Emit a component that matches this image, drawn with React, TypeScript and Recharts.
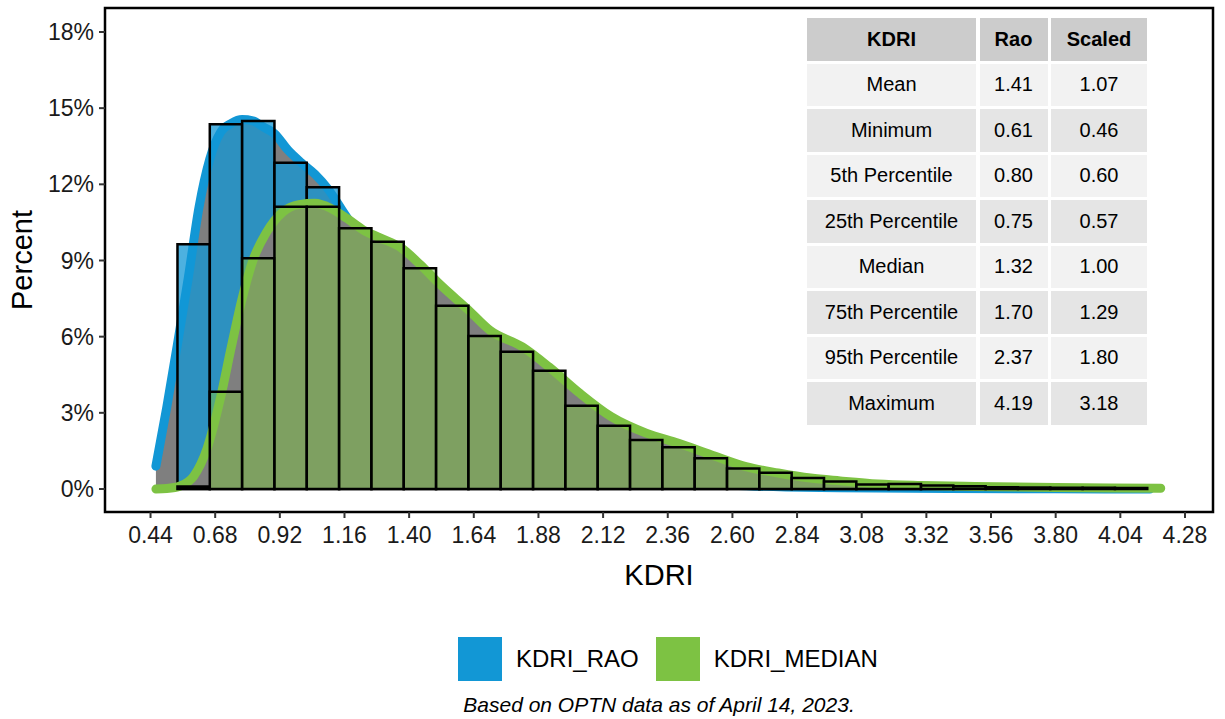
import React from 'react';
import { ComposedChart, Area, XAxis, YAxis, ReferenceArea, Legend } from 'recharts';

const RAO_COLOR = '#1297d5';
const MEDIAN_COLOR = '#7dc243';
const FONT = '"Liberation Sans", Arial, Helvetica, sans-serif';
const CAPTION = 'Based on OPTN data as of April 14, 2023.';
const SERIES_NAMES = ['KDRI_RAO', 'KDRI_MEDIAN'];

const X_DOMAIN: [number, number] = [0.271, 4.384];
const Y_DOMAIN: [number, number] = [-0.906, 18.945];
const X_TICKS = [0.44, 0.68, 0.92, 1.16, 1.4, 1.64, 1.88, 2.12, 2.36, 2.6, 2.84, 3.08, 3.32, 3.56, 3.8, 4.04, 4.28];
const Y_TICKS = [0, 3, 6, 9, 12, 15, 18];

// histogram bins (left edges + final right edge), percent of donors per bin
const BIN_EDGES = [
  0.54, 0.66, 0.78, 0.9, 1.02, 1.14, 1.26, 1.38, 1.5, 1.62, 1.74, 1.86, 1.98, 2.1, 2.22, 2.34,
  2.46, 2.58, 2.7, 2.82, 2.94, 3.06, 3.18, 3.3, 3.42, 3.54, 3.66, 3.78, 3.9, 4.02, 4.14,
];
const RAO_PCT = [
  9.64, 14.37, 14.49, 12.85, 11.88, 9.5, 7.9, 6.4, 4.6, 3.2, 2.4, 1.65, 1.0, 0.65, 0.45, 0.3,
  0.2, 0.12, 0.08, 0.05, 0.04, 0.03, 0.02, 0.01, 0.01, 0, 0, 0, 0, 0,
];
const MEDIAN_PCT = [
  0.1, 3.83, 9.09, 11.12, 11.12, 10.27, 9.74, 8.69, 7.22, 6.03, 5.41, 4.66, 3.28, 2.49, 1.93, 1.64,
  1.21, 0.81, 0.64, 0.43, 0.3, 0.18, 0.2, 0.14, 0.11, 0.07, 0.06, 0.05, 0.05, 0.04,
];

// density curves, scaled to percent per bin
const RAO_DENS_X = [
  0.46, 0.5, 0.54, 0.58, 0.62, 0.66, 0.7, 0.74, 0.78, 0.82, 0.86, 0.9, 0.95, 1.0, 1.05, 1.1, 1.15,
  1.2, 1.3, 1.4, 1.5, 1.6, 1.7, 1.8, 1.9, 2.0, 2.2, 2.4, 2.6, 2.8, 3.0, 3.4, 3.8, 4.15,
];
const RAO_DENS_Y = [
  0.9, 3.2, 5.7, 8.3, 11.1, 13.0, 14.05, 14.4, 14.55, 14.5, 14.25, 14.0, 13.35, 12.85, 12.4, 11.8, 11.0,
  10.2, 8.8, 7.3, 5.7, 4.4, 3.3, 2.4, 1.7, 1.2, 0.6, 0.3, 0.15, 0.08, 0.05, 0.02, 0.01, 0,
];
const MEDIAN_DENS_X = [
  0.46, 0.5, 0.55, 0.6, 0.65, 0.7, 0.74, 0.78, 0.82, 0.87, 0.93, 0.99, 1.05, 1.11, 1.17, 1.23, 1.29,
  1.37, 1.44, 1.51, 1.62, 1.7, 1.82, 1.92, 2.03, 2.15, 2.28, 2.4, 2.52, 2.65, 2.77, 2.89, 3.0, 3.14,
  3.3, 3.5, 3.8, 4.0, 4.19,
];
const MEDIAN_DENS_Y = [
  0.0, 0.02, 0.12, 0.5, 1.6, 3.6, 5.6, 7.5, 9.0, 10.1, 10.9, 11.2, 11.25, 11.05, 10.65, 10.2, 9.9,
  9.5, 8.85, 8.1, 7.05, 6.25, 5.6, 4.8, 3.8, 2.85, 2.2, 1.8, 1.35, 0.88, 0.63, 0.43, 0.32, 0.2,
  0.14, 0.1, 0.06, 0.04, 0.03,
];

// summary table
const TABLE_HEAD = ['KDRI', 'Rao', 'Scaled'];
const STAT_NAMES = ['Mean', 'Minimum', '5th Percentile', '25th Percentile', 'Median', '75th Percentile', '95th Percentile', 'Maximum'];
const STAT_RAO = ['1.41', '0.61', '0.80', '0.75', '1.32', '1.70', '2.37', '4.19'];
const STAT_SCALED = ['1.07', '0.46', '0.60', '0.57', '1.00', '1.29', '1.80', '3.18'];

const raoDensity = RAO_DENS_X.map((x, i) => ({ x, y: RAO_DENS_Y[i] }));
const medianDensity = MEDIAN_DENS_X.map((x, i) => ({ x, y: MEDIAN_DENS_Y[i] }));

const renderBins = (values: number[], color: string, opacity: number, z: number, key: string) =>
  values.map((v, i) =>
    v > 0 ? (
      <ReferenceArea
        key={`${key}-${i}`}
        x1={BIN_EDGES[i]}
        x2={BIN_EDGES[i + 1]}
        y1={0}
        y2={v}
        fill={color}
        fillOpacity={opacity}
        stroke="#000"
        strokeWidth={2.5}
        ifOverflow="visible"
        zIndex={z}
      />
    ) : null
  );

const LegendContent = (props: any) => {
  const payload = [...(props.payload ?? [])].sort(
    (a: any, b: any) => SERIES_NAMES.indexOf(a.value) - SERIES_NAMES.indexOf(b.value)
  );
  return (
    <div style={{ position: 'relative', width: 1225, height: 130, fontFamily: FONT }}>
      <div style={{ position: 'absolute', left: 458, top: 48, height: 44, display: 'flex', alignItems: 'center' }}>
        {payload.map((item: any) => (
          <div key={item.value} style={{ display: 'flex', alignItems: 'center', marginRight: 17 }}>
            <span style={{ display: 'inline-block', width: 44, height: 44, background: item.color }} />
            <span style={{ marginLeft: 14, fontSize: 24, lineHeight: '24px', color: '#000' }}>{item.value}</span>
          </div>
        ))}
      </div>
      <div
        style={{
          position: 'absolute',
          left: 105,
          width: 1108,
          top: 105,
          textAlign: 'center',
          fontStyle: 'italic',
          fontSize: 21,
          lineHeight: '21px',
          color: '#000',
        }}
      >
        {CAPTION}
      </div>
    </div>
  );
};

const cell = (bg: string, bold = false): React.CSSProperties => ({
  background: bg,
  display: 'flex',
  alignItems: 'center',
  justifyContent: 'center',
  fontWeight: bold ? 700 : 400,
  color: '#000',
});

const StatsTable: React.FC = () => (
  <div
    style={{
      position: 'absolute',
      left: 807,
      top: 18,
      display: 'grid',
      gridTemplateColumns: '169px 68px 96px',
      gridAutoRows: '42.5px',
      columnGap: 3.5,
      rowGap: 3,
      fontSize: 20,
      fontFamily: FONT,
      zIndex: 2,
    }}
  >
    {TABLE_HEAD.map((h) => (
      <div key={h} style={cell('#cccccc', true)}>{h}</div>
    ))}
    {STAT_NAMES.map((name, i) => {
      const bg = i % 2 === 0 ? '#f2f2f2' : '#e5e5e5';
      return (
        <React.Fragment key={name}>
          <div style={cell(bg)}>{name}</div>
          <div style={cell(bg)}>{STAT_RAO[i]}</div>
          <div style={cell(bg)}>{STAT_SCALED[i]}</div>
        </React.Fragment>
      );
    })}
  </div>
);

const App: React.FC = () => {
  return (
    <div style={{ position: 'absolute', left: 0, top: 0, width: 1225, height: 719, background: '#fff', fontFamily: FONT }}>
      <ComposedChart width={1225} height={719} margin={{ top: 8, right: 12, bottom: 0, left: 0 }}>
        <XAxis
          dataKey="x"
          type="number"
          domain={X_DOMAIN}
          allowDataOverflow
          ticks={X_TICKS}
          interval={0}
          tickFormatter={(v: number) => v.toFixed(2)}
          tick={{ fontSize: 23, fill: '#1a1a1a' }}
          tickLine={{ stroke: '#333', strokeWidth: 2 }}
          tickSize={6}
          tickMargin={9}
          axisLine={false}
          height={77}
          label={{ value: 'KDRI', position: 'insideBottom', offset: 4, fontSize: 29, fill: '#000' }}
        />
        <YAxis
          type="number"
          domain={Y_DOMAIN}
          allowDataOverflow
          ticks={Y_TICKS}
          interval={0}
          tickFormatter={(v: number) => `${v}%`}
          tick={{ fontSize: 23, fill: '#1a1a1a' }}
          tickLine={{ stroke: '#333', strokeWidth: 2 }}
          tickSize={6}
          tickMargin={5}
          axisLine={false}
          width={105}
          label={{
            value: 'Percent',
            angle: -90,
            position: 'insideLeft',
            offset: 22,
            fontSize: 29,
            fill: '#000',
            style: { textAnchor: 'middle' },
          }}
        />
        <Area
          name="KDRI_RAO"
          data={raoDensity}
          dataKey="y"
          type="monotone"
          baseValue={0}
          stroke={RAO_COLOR}
          strokeWidth={9}
          strokeLinecap="round"
          fill="#7f7f7f"
          fillOpacity={1}
          dot={false}
          activeDot={false}
          isAnimationActive={false}
          zIndex={101}
        />
        {renderBins(RAO_PCT, RAO_COLOR, 0.75, 102, 'rao')}
        <Area
          name="KDRI_MEDIAN"
          data={medianDensity}
          dataKey="y"
          type="monotone"
          baseValue={0}
          stroke={MEDIAN_COLOR}
          strokeWidth={9}
          strokeLinecap="round"
          fill="#7f7f7f"
          fillOpacity={1}
          dot={false}
          activeDot={false}
          isAnimationActive={false}
          zIndex={103}
        />
        {renderBins(MEDIAN_PCT, MEDIAN_COLOR, 0.5, 104, 'median')}
        <ReferenceArea
          x1={X_DOMAIN[0]}
          x2={X_DOMAIN[1]}
          y1={Y_DOMAIN[0]}
          y2={Y_DOMAIN[1]}
          fill="none"
          stroke="#000"
          strokeWidth={2.5}
          ifOverflow="visible"
          zIndex={105}
        />
        <Legend
          verticalAlign="bottom"
          height={130}
          wrapperStyle={{ left: 0, width: 1225, height: 130 }}
          content={(p: any) => <LegendContent {...p} />}
        />
      </ComposedChart>
      <StatsTable />
    </div>
  );
};

export default App;
